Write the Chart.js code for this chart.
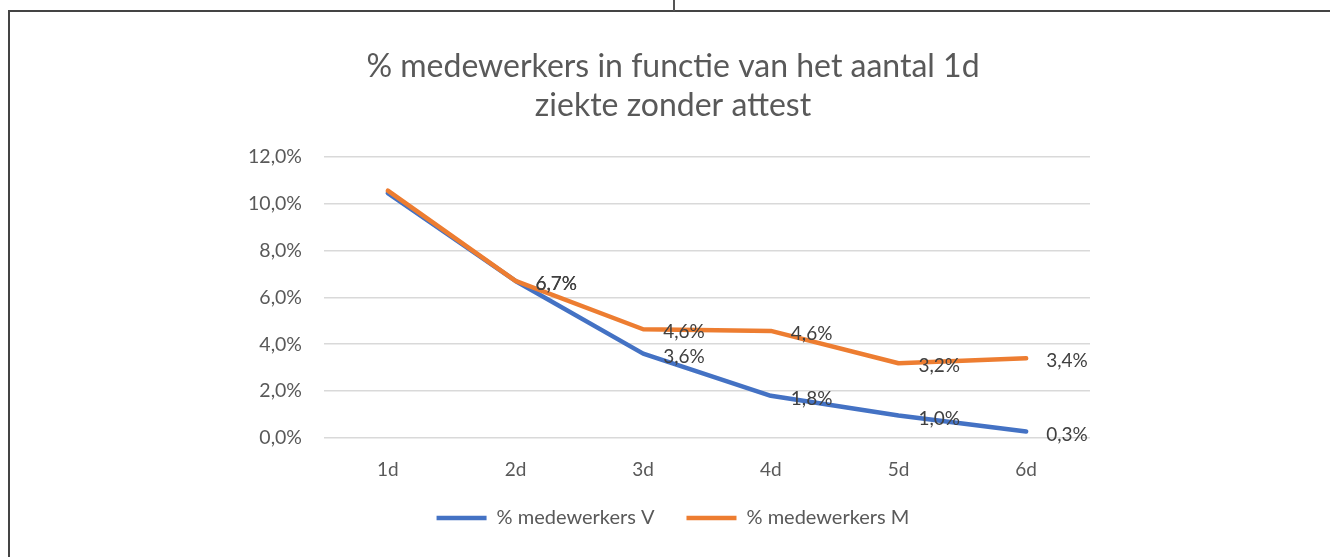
<!DOCTYPE html>
<html>
<head>
<meta charset="utf-8">
<script src="https://cdn.jsdelivr.net/npm/chart.js"></script>
<style>
  html, body { margin: 0; padding: 0; background: #fff; }
  #wrap { position: relative; width: 1330px; height: 557px; overflow: hidden; }
  #chart { position: absolute; left: 0; top: 0; }
  .frame-top { position: absolute; left: 8px; top: 10px; width: 1330px; height: 2px; background: #444; }
  .frame-left { position: absolute; left: 8px; top: 10px; width: 2px; height: 560px; background: #444; }
  .frame-tick { position: absolute; left: 673px; top: 0; width: 2px; height: 11px; background: #555; }
</style>
</head>
<body>
<div id="wrap">
  <canvas id="chart" width="1330" height="557"></canvas>
  <div class="frame-top"></div>
  <div class="frame-left"></div>
  <div class="frame-tick"></div>
</div>
<script>
// categorieen en reeksen
const categories = ["1d", "2d", "3d", "4d", "5d", "6d"];
const seriesV = [10.45, 6.7, 3.6, 1.8, 0.96, 0.28];
const seriesM = [10.55, 6.7, 4.64, 4.57, 3.19, 3.4];
const yTicks = [0, 2, 4, 6, 8, 10, 12];

const FONT = "Lato, 'Open Sans', sans-serif";
const fmt = v => v.toFixed(1).replace(".", ",") + "%";

// eigen plugin voor de datalabels (geen label bij het eerste punt)
const valueLabels = {
  id: "valueLabels",
  afterDatasetsDraw(chart) {
    const ctx = chart.ctx;
    ctx.save();
    ctx.font = "19px " + FONT;
    ctx.fillStyle = "#404040";
    ctx.textAlign = "left";
    ctx.textBaseline = "middle";
    chart.data.datasets.forEach((ds, di) => {
      const meta = chart.getDatasetMeta(di);
      meta.data.forEach((pt, i) => {
        if (i === 0) return;
        ctx.fillText(fmt(ds.data[i]), pt.x + 20, pt.y + 3);
      });
    });
    ctx.restore();
  }
};

new Chart(document.getElementById("chart"), {
  type: "line",
  data: {
    labels: categories,
    datasets: [
      {
        label: "% medewerkers V",
        data: seriesV,
        borderColor: "#4472C4",
        backgroundColor: "#4472C4",
        borderWidth: 4.5,
        borderCapStyle: "round",
        borderJoinStyle: "round",
        pointRadius: 0,
        tension: 0,
        order: 1
      },
      {
        label: "% medewerkers M",
        data: seriesM,
        borderColor: "#ED7D31",
        backgroundColor: "#ED7D31",
        borderWidth: 4.5,
        borderCapStyle: "round",
        borderJoinStyle: "round",
        pointRadius: 0,
        tension: 0,
        order: 0
      }
    ]
  },
  options: {
    responsive: false,
    animation: false,
    layout: { padding: { top: 30, left: 256, right: 240, bottom: 19 } },
    plugins: {
      title: {
        display: true,
        text: ["% medewerkers in functie van het aantal 1d", "ziekte zonder attest"],
        color: "#595959",
        font: { family: FONT, size: 32, weight: "normal", lineHeight: 1.23 },
        padding: { top: 17, bottom: 31 }
      },
      legend: {
        position: "bottom",
        labels: {
          usePointStyle: true,
          pointStyle: "line",
          pointStyleWidth: 50,
          color: "#595959",
          font: { family: FONT, size: 20 },
          padding: 32,
          sort: (a, b) => a.datasetIndex - b.datasetIndex
        }
      },
      tooltip: { enabled: false }
    },
    scales: {
      x: {
        offset: true,
        grid: { display: false, drawTicks: false },
        border: { display: false },
        ticks: { color: "#595959", font: { family: FONT, size: 19 }, padding: 20 },
        afterFit: s => { s.height = 38; }
      },
      y: {
        min: yTicks[0],
        max: yTicks[yTicks.length - 1],
        afterBuildTicks: s => { s.ticks = yTicks.map(v => ({ value: v })); },
        grid: { color: "#d9d9d9", lineWidth: 1.5, drawTicks: false },
        border: { display: false },
        ticks: {
          color: "#595959",
          font: { family: FONT, size: 19.5 },
          padding: 22,
          callback: v => fmt(v)
        },
        // smalle as, labels mogen buiten de asbox vallen (niet afknippen)
        afterFit: s => { s.width = 68; s._computeLabelArea = () => null; }
      }
    }
  },
  plugins: [valueLabels]
});
</script>
</body>
</html>
